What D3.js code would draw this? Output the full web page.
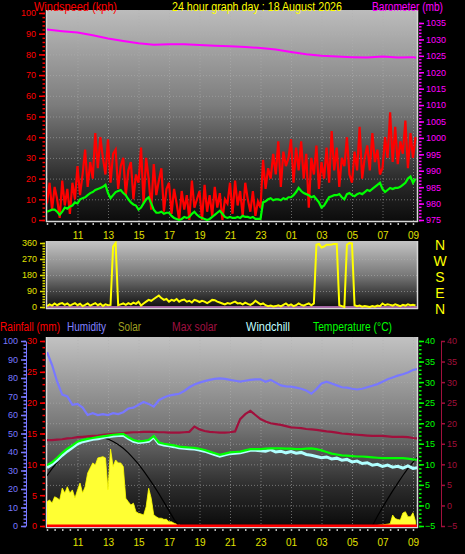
<!DOCTYPE html>
<html><head><meta charset="utf-8">
<script src="https://cdn.jsdelivr.net/npm/d3@7"></script>
<style>html,body{margin:0;padding:0;background:#000;} svg{display:block;font-family:"Liberation Sans",Arial,sans-serif;}</style>
</head><body>
<svg id="c" width="465" height="554"></svg>
<script>
// ---------- DATA ----------
const titleText = "24 hour graph day : 18 August 2026";
const xTickHours = [11, 13, 15, 17, 19, 21, 23, 25, 27, 29, 31, 33];

// 10-minute samples, 09:00 -> 09:10 next day (146 values)
const windGust = [
  8, 18, 5, 16, 10, 1,
  19, 7, 15, 3, 18, 10,
  26, 12, 22, 34, 16, 28,
  20, 42, 25, 40, 30, 22,
  39, 18, 32, 34, 15, 26,
  30, 12, 24, 28, 10, 22,
  18, 35, 8, 30, 20, 5,
  27, 12, 19, 25, 4, 15,
  18, 3, 15, 8, 0, 14,
  5, 12, 0, 19, 6, 10,
  14, 0, 17, 4, 12, 2,
  16, 6, 13, 0, 10, 8,
  18, 3, 19, 7, 14, 2,
  18, 10, 4, 14, 2, 9,
  6, 29, 15, 25, 20, 32,
  22, 38, 16, 33, 26, 30,
  39, 18, 35, 24, 38, 20,
  32, 6, 30, 22, 36, 15,
  28, 20, 35, 18, 43, 24,
  35, 16, 30, 26, 40, 22,
  18, 33, 24, 45, 20, 30,
  36, 24, 42, 28, 34, 22,
  25, 40, 30, 52, 28, 45,
  27, 38, 32, 48, 25, 42,
  30, 40];
const windAvg = [
  4, 4.5, 5, 5, 4, 2.5,
  4, 6, 5.5, 6.5, 7, 8.5,
  8, 10, 10.5, 11, 12, 13,
  13.5, 14.5, 15, 15.5, 16, 17,
  13, 10.5, 12, 13.5, 14, 14.5,
  13, 12, 10, 8.5, 7.5, 7,
  5, 6, 8, 10, 11, 8,
  5, 3.5, 3.5, 4, 3, 3.5,
  3.5, 2, 1, 0.5, 0, 0.5,
  1.5, 1, 1.5, 3, 4, 2.5,
  1.5, 1, 0.5, 0, 0.5, 1.5,
  2.5, 3.5, 4.5, 3, 1.5, 1,
  1.5, 1, 1, 1.5, 1, 2,
  1.5, 1.5, 1, 1.5, 0.5, 0.5,
  0.5, 8.5, 9, 10, 10.5, 9.5,
  10, 10, 9.5, 10.5, 10, 11,
  11, 12, 13.5, 15.5, 14, 13,
  12.5, 12, 11, 11.5, 10, 8.5,
  6, 7, 9, 11, 11.5, 12,
  12, 12.5, 11, 10, 12.5, 13,
  12, 11.5, 12.5, 13, 12.5, 13.5,
  14.5, 14, 15, 16, 17, 18,
  15, 13.5, 14.5, 15.5, 15, 15.5,
  15.5, 16, 17, 18, 20, 21,
  18, 20];
const windDir = [
  5, 15, 8, 20, 10, 18,
  22, 12, 20, 8, 15, 22,
  10, 18, 5, 12, 20, 8,
  15, 22, 10, 18, 6, 15,
  10, 12, 340, 360, 10, 15,
  20, 12, 22, 15, 25, 18,
  30, 8, 20, 30, 40, 35,
  45, 55, 65, 50, 40, 45,
  30, 40, 35, 45, 30, 38,
  42, 30, 35, 25, 40, 35,
  28, 35, 30, 22, 30, 40,
  38, 30, 25, 20, 15, 22,
  18, 25, 30, 20, 22, 15,
  25, 18, 12, 20, 35, 25,
  15, 20, 10, 5, 8, 3,
  5, 10, 3, 12, 20, 8,
  15, 5, 10, 20, 12, 8,
  15, 20, 10, 20, 350, 355,
  335, 340, 350, 350, 352, 355,
  355, 10, 5, 0, 350, 360,
  358, 10, 5, 8, 2, 5,
  3, 0, 5, 2, 8, 5,
  20, 10, 15, 12, 8, 15,
  10, 5, 12, 8, 15, 10,
  12, 8];
const solar = [
  131, 141, 124, 158, 151, 141,
  205, 178, 212, 178, 195, 151,
  195, 232, 178, 212, 286, 314,
  341, 330, 368, 371, 375, 368,
  195, 416, 321, 357, 341, 341,
  321, 150, 131, 114, 123, 77,
  69, 65, 59, 104, 204, 150,
  60, 50, 42, 42, 36, 36,
  23, 23, 15, 10, 5, 0,
  0, 0, 0, 0, 0, 0,
  0, 0, 0, 0, 0, 0,
  0, 0, 0, 0, 0, 0,
  0, 0, 0, 0, 0, 0,
  0, 0, 0, 0, 0, 0,
  0, 0, 0, 0, 0, 0,
  0, 0, 0, 0, 0, 0,
  0, 0, 0, 0, 0, 0,
  0, 0, 0, 0, 0, 0,
  0, 0, 0, 0, 0, 0,
  0, 0, 0, 0, 0, 0,
  0, 0, 0, 0, 0, 0,
  0, 0, 0, 2, 3, 5,
  6, 8, 10, 12, 59, 40,
  35, 32, 70, 77, 50, 50,
  72, 25];

// hourly barometer readings (mb)
const baroHours = [9, 10, 11, 12, 13, 14, 15, 16, 17, 18, 19, 20, 21, 22, 23, 24, 25, 26, 27, 28, 29, 30, 31, 32, 33, 33.2];
const barometer = [1033.0, 1032.5, 1032.1, 1031.3, 1030.3, 1029.5, 1028.8, 1028.4, 1028.5, 1028.5, 1028.3, 1028.1, 1027.9, 1027.7, 1027.4, 1026.9, 1026.2, 1025.5, 1025.0, 1024.8, 1024.6, 1024.5, 1024.8, 1024.5, 1024.6, 1024.4];

// 20-minute samples, 09:00 -> 09:20 next day (74 values)
const humidity = [
  94, 87, 78, 71, 70, 65.5, 66, 64, 60, 61, 60, 60.5,
  60, 61, 60.5, 61.5, 63.5, 64, 65.5, 67, 66, 64.5, 68, 69.5,
  70.5, 71, 71.5, 73, 75, 76.5, 77.5, 78.3, 79, 79.5, 79.8, 79.5,
  79, 78.5, 78, 78.5, 79, 79.3, 79.3, 78, 79, 77.5, 76, 75.5,
  75.3, 74.8, 74.2, 73.2, 71.5, 74, 77, 78, 77, 76, 75, 74.8,
  74.2, 73.8, 74.2, 75, 75.8, 76.7, 78, 79.3, 80.3, 81.3, 82, 83,
  84.3, 85];
const temperature = [
  9.8, 10.5, 11.6, 12.8, 13.8, 14.6, 15.5, 15.9, 16.2, 16.4, 16.6, 16.8,
  17, 17.2, 17.3, 17.4, 16.6, 15.9, 15.6, 15.7, 15.9, 16.9, 15.3, 15,
  14.8, 14.6, 14.3, 14.2, 14.1, 14, 13.8, 13.5, 13.1, 12.7, 12.3, 12.6,
  12.9, 13, 13.1, 13.4, 13.7, 13.7, 13.7, 13.8, 13.9, 13.9, 13.9, 13.8,
  13.8, 13.7, 13.7, 13.8, 13.9, 13.7, 13.4, 13, 12.6, 12.4, 12.2, 12.1,
  12, 11.9, 11.9, 11.8, 11.7, 11.6, 11.5, 11.5, 11.5, 11.5, 11.5, 11.4,
  11.2, 11.1];
const windchill = [
  9.2, 10.0, 11.0, 12.2, 13.2, 14.1, 15.0, 15.5, 15.8, 16.1, 16.2, 16.5,
  16.7, 16.9, 17.0, 17.1, 16.3, 15.6, 15.3, 15.4, 15.6, 16.6, 15.0, 14.7,
  14.5, 14.3, 14.0, 13.9, 13.8, 13.7, 13.5, 13.2, 12.8, 12.4, 12.0, 12.3,
  12.6, 12.7, 12.8, 13.1, 13.4, 13.4, 13.3, 13.2, 13.6, 13.0, 13.2, 12.8,
  13.1, 12.7, 12.9, 12.4, 12.2, 11.9, 11.6, 11.8, 11.3, 11.5, 11.0, 11.2,
  10.6, 10.8, 10.2, 10.4, 9.8, 10.0, 9.5, 9.8, 9.3, 9.5, 9.1, 9.6,
  9.0, 9.2];
const maxSolar = [
  15.9, 15.9, 16.0, 16.1, 16.3, 16.4, 16.6, 16.7, 16.8, 16.9, 17.0, 17.2,
  17.3, 17.4, 17.5, 17.6, 17.7, 17.8, 17.8, 17.9, 17.9, 17.9, 17.8, 17.8,
  17.7, 17.7, 17.7, 17.8, 17.9, 19.2, 18.5, 18.1, 17.9, 17.8, 17.7, 17.7,
  17.8, 18.0, 21.0, 22.2, 23.0, 22.0, 21.0, 20.4, 20.0, 19.8, 19.6, 19.3,
  19.0, 18.9, 18.8, 18.6, 18.5, 18.4, 18.2, 18.0, 17.9, 17.7, 17.5, 17.4,
  17.3, 17.2, 17.1, 17.0, 16.9, 16.9, 16.9, 16.8, 16.7, 16.7, 16.7, 16.6,
  16.4, 16.3];
const solarCurve = [
  272, 310, 345, 376, 403, 427, 447, 462, 473, 480, 481, 478,
  470, 457, 441, 420, 395, 366, 334, 298, 259, 218, 175, 129,
  83, 36, 0, 0, 0, 0, 0, 0, 0, 0, 0, 0,
  0, 0, 0, 0, 0, 0, 0, 0, 0, 0, 0, 0,
  0, 0, 0, 0, 0, 0, 0, 0, 0, 0, 0, 0,
  0, 0, 0, 0, 0, 53, 100, 145, 190, 232, 273, 311,
  345, 376];
const rainHours = [9, 33.3];
const rainfall = [0, 0];

// ---------- SETUP ----------
const hours10 = d3.range(windGust.length).map(i => 9 + i / 6);
const hours20 = d3.range(humidity.length).map(i => 9 + i / 3);
const svg = d3.select("#c");
const defs = svg.append("defs");
const PX0 = 47, PX1 = 417;
const P = { top: [10, 221], mid: [241, 308], bot: [337, 527] };

const x = d3.scaleLinear().domain([9, 33]).range([47, 413]);
const yWind = d3.scaleLinear().domain([0, 100]).range([220, 13]);
const yBaro = d3.scaleLinear().domain([975, 1035]).range([220, 23]);
const yDir = d3.scaleLinear().domain([0, 360]).range([307, 243]);
const yTemp = d3.scaleLinear().domain([-5, 40]).range([526, 341]);
const yHum = d3.scaleLinear().domain([0, 100]).range([526, 341]);
const yRain = d3.scaleLinear().domain([0, 30]).range([526, 341]);
const ySolar = d3.scaleLinear().domain([0, 1000]).range([526, 341]);

function grad(id, stops) {
  const g = defs.append("linearGradient").attr("id", id)
    .attr("x1", 0).attr("y1", 0).attr("x2", 0).attr("y2", 1);
  stops.forEach(s => g.append("stop").attr("offset", s[0]).attr("stop-color", s[1]));
}
grad("gTop", [[0, "#bcbcbc"], [0.45, "#7c7c7c"], [0.8, "#2c2c2c"], [1, "#0c0c0c"]]);
grad("gMid", [[0, "#c4c4c4"], [0.5, "#7a7a7a"], [1, "#0c0c0c"]]);
grad("gBot", [[0, "#c2c2c2"], [0.45, "#7a7a7a"], [0.8, "#2a2a2a"], [1, "#0a0a0a"]]);

Object.entries(P).forEach(([k, [a, b]]) => {
  defs.append("clipPath").attr("id", "clip-" + k).append("rect")
    .attr("x", PX0).attr("y", a).attr("width", PX1 - PX0).attr("height", b - a);
  const fill = k === "top" ? "gTop" : k === "mid" ? "gMid" : "gBot";
  svg.append("rect").attr("x", PX0).attr("y", a).attr("width", PX1 - PX0).attr("height", b - a)
    .attr("fill", `url(#${fill})`);
});

// grid lines
function hgrid(vals, scale) {
  svg.append("g").selectAll("line").data(vals).join("line")
    .attr("x1", PX0).attr("x2", PX1).attr("y1", d => scale(d) + 0.5).attr("y2", d => scale(d) + 0.5)
    .attr("stroke", "#b0b0b0").attr("stroke-opacity", 0.55).attr("stroke-dasharray", "1,2");
}
function vgrid(y0, y1) {
  svg.append("g").selectAll("line").data(xTickHours).join("line")
    .attr("x1", d => x(d) + 0.5).attr("x2", d => x(d) + 0.5).attr("y1", y0).attr("y2", y1)
    .attr("stroke", "#b0b0b0").attr("stroke-opacity", 0.55).attr("stroke-dasharray", "1,2");
}
hgrid(d3.range(10, 100, 10), yWind); vgrid(P.top[0], P.top[1]);
hgrid([90, 180, 270], yDir);
hgrid(d3.range(0, 40, 5), yTemp); vgrid(P.bot[0], P.bot[1]);

// frames
function frame(y0, y1) {
  const g = svg.append("g").attr("stroke", "#d8d8d8").attr("stroke-width", 1.5);
  g.append("line").attr("x1", 46.5).attr("x2", 46.5).attr("y1", y0).attr("y2", y1 + 1);
  g.append("line").attr("x1", 417.5).attr("x2", 417.5).attr("y1", y0).attr("y2", y1 + 1);
  g.append("line").attr("x1", 46).attr("x2", 418).attr("y1", y1 + 0.5).attr("y2", y1 + 0.5);
}
frame(P.top[0], P.top[1]); frame(P.mid[0], P.mid[1]); frame(P.bot[0], P.bot[1]);

// ---------- TOP PANEL ----------
const gTop = svg.append("g").attr("clip-path", "url(#clip-top)");
gTop.append("path").datum(barometer)
  .attr("d", d3.line().x((d, i) => x(baroHours[i])).y(d => yBaro(d)))
  .attr("fill", "none").attr("stroke", "#ff00ff").attr("stroke-width", 2);
gTop.append("path").datum(windGust)
  .attr("d", d3.line().x((d, i) => x(hours10[i])).y(d => yWind(d)))
  .attr("fill", "none").attr("stroke", "#ff0000").attr("stroke-width", 2.2);
gTop.append("path").datum(windAvg)
  .attr("d", d3.line().x((d, i) => x(hours10[i])).y(d => yWind(d)))
  .attr("fill", "none").attr("stroke", "#00ff00").attr("stroke-width", 2.2);

// ---------- MIDDLE PANEL ----------
const gMid = svg.append("g").attr("clip-path", "url(#clip-mid)");
gMid.append("line").attr("x1", PX0).attr("x2", PX1).attr("y1", yDir(0)).attr("y2", yDir(0))
  .attr("stroke", "#d080d0").attr("stroke-width", 1.5);
gMid.append("path").datum(windDir)
  .attr("d", d3.line().x((d, i) => x(hours10[i])).y(d => yDir(d)))
  .attr("fill", "none").attr("stroke", "#ffff00").attr("stroke-width", 2);

// ---------- BOTTOM PANEL ----------
const gBot = svg.append("g").attr("clip-path", "url(#clip-bot)");
gBot.append("path").datum(solar)
  .attr("d", d3.area().x((d, i) => x(hours10[i])).y0(ySolar(0)).y1(d => ySolar(d)))
  .attr("fill", "#ffff33").attr("stroke", "#ffff00").attr("stroke-width", 0.8);
gBot.append("path").datum(solarCurve)
  .attr("d", d3.line().x((d, i) => x(hours20[i])).y(d => ySolar(d)))
  .attr("fill", "none").attr("stroke", "#000").attr("stroke-width", 1.2);
gBot.append("path").datum(humidity)
  .attr("d", d3.line().x((d, i) => x(hours20[i])).y(d => yHum(d)))
  .attr("fill", "none").attr("stroke", "#7878ff").attr("stroke-width", 2.2);
gBot.append("path").datum(maxSolar)
  .attr("d", d3.line().x((d, i) => x(hours20[i])).y(d => yTemp(d)))
  .attr("fill", "none").attr("stroke", "#a0103c").attr("stroke-width", 2.2);
gBot.append("path").datum(windchill)
  .attr("d", d3.line().x((d, i) => x(hours20[i])).y(d => yTemp(d)))
  .attr("fill", "none").attr("stroke", "#b0ffff").attr("stroke-width", 3);
gBot.append("path").datum(temperature)
  .attr("d", d3.line().x((d, i) => x(hours20[i])).y(d => yTemp(d)))
  .attr("fill", "none").attr("stroke", "#00ff00").attr("stroke-width", 2.2);
gBot.append("path").datum(rainfall)
  .attr("d", d3.line().x((d, i) => x(rainHours[i])).y(d => yRain(d)))
  .attr("fill", "none").attr("stroke", "#ff0000").attr("stroke-width", 3);

// ---------- AXES ----------
function styleAxis(g, color, fs) {
  g.selectAll("line").attr("stroke", color).attr("stroke-width", 1.5);
  g.selectAll("path.domain").attr("stroke", color);
  g.selectAll("text").attr("fill", color).style("font-size", fs + "px")
    .style("font-family", '"Liberation Sans",Arial,sans-serif');
}
function axis(gen, tx, ty, color, fs, keepDomain) {
  const g = svg.append("g").attr("transform", `translate(${tx},${ty})`).call(gen);
  if (!keepDomain) g.select("path.domain").remove();
  styleAxis(g, color, fs);
  return g;
}
const intFmt = d3.format("d");
// top left wind speed
axis(d3.axisLeft(yWind).tickValues(d3.range(0, 101, 2)).tickSize(2.5).tickFormat(""), 45, 0, "#ff0000", 9);
axis(d3.axisLeft(yWind).tickValues(d3.range(0, 101, 10)).tickSize(6).tickPadding(3).tickFormat(intFmt), 45, 0, "#ff0000", 9);
// top right barometer
axis(d3.axisRight(yBaro).tickValues(d3.range(975, 1036, 1)).tickSize(2.5).tickFormat(""), 419, 0, "#ff00ff", 9);
axis(d3.axisRight(yBaro).tickValues(d3.range(975, 1036, 5)).tickSize(5).tickPadding(2).tickFormat(intFmt), 419, 0, "#ff00ff", 9);
// x axes
const hourFmt = h => String(h % 24).padStart(2, "0");
axis(d3.axisBottom(x).tickValues(d3.range(9, 33.01, 0.5)).tickSize(2).tickFormat(""), 0, 223, "#bbbbbb", 9);
axis(d3.axisBottom(x).tickValues(xTickHours).tickSize(0).tickPadding(9).tickFormat(hourFmt), 0, 223, "#e0e000", 10);
axis(d3.axisBottom(x).tickValues(d3.range(9, 33.01, 0.5)).tickSize(2).tickFormat(""), 0, 529, "#bbbbbb", 9);
axis(d3.axisBottom(x).tickValues(xTickHours).tickSize(0).tickPadding(10).tickFormat(hourFmt), 0, 529, "#e0e000", 10);
// middle direction
axis(d3.axisLeft(yDir).tickValues(d3.range(0, 361, 15)).tickSize(2.5).tickFormat(""), 45, 0, "#e0e000", 9);
axis(d3.axisLeft(yDir).tickValues(d3.range(0, 361, 90)).tickSize(5).tickPadding(3).tickFormat(intFmt), 45, 0, "#e0e000", 9);
const compass = [[360, "N"], [270, "W"], [180, "S"], [90, "E"], [0, "N"]];
svg.append("g").selectAll("text").data(compass).join("text")
  .attr("x", 440).attr("y", d => yDir(d[0]) + 7).attr("text-anchor", "middle")
  .attr("fill", "#ffff00").style("font-size", "14px").text(d => d[1]);
// bottom humidity
axis(d3.axisLeft(yHum).tickValues(d3.range(0, 101, 2)).tickSize(2.5).tickSizeOuter(0).tickFormat(""), 26, 0, "#7878ff", 9, true);
axis(d3.axisLeft(yHum).tickValues(d3.range(0, 101, 10)).tickSize(5).tickPadding(3).tickFormat(intFmt), 26, 0, "#7878ff", 9);
// bottom rainfall
axis(d3.axisLeft(yRain).tickValues(d3.range(0, 31, 1)).tickSize(2.5).tickFormat(""), 45, 0, "#ff0000", 9);
axis(d3.axisLeft(yRain).tickValues(d3.range(0, 31, 5)).tickSize(5).tickPadding(3).tickFormat(intFmt), 45, 0, "#ff0000", 9);
// bottom temperature
axis(d3.axisRight(yTemp).tickValues(d3.range(-5, 41, 1)).tickSize(2.5).tickFormat(""), 419, 0, "#00ff00", 9);
axis(d3.axisRight(yTemp).tickValues(d3.range(-5, 41, 5)).tickSize(5).tickPadding(1).tickFormat(intFmt), 419, 0, "#00ff00", 9);
// bottom max solar (maroon)
axis(d3.axisRight(yTemp).tickValues(d3.range(-5, 41, 5)).tickSize(4).tickSizeOuter(0).tickPadding(2).tickFormat(intFmt), 441, 0, "#a0103c", 9, true);

// ---------- TITLES ----------
const titles = [
  ["Windspeed (kph)", 34, 11, "#ff0000", 83],
  [titleText, 172, 11, "#ffff00", 170],
  ["Barometer (mb)", 372, 11, "#ff00ff", 71],
  ["Rainfall (mm)", 0, 331, "#ff0000", 60],
  ["Humidity", 67, 331, "#8080ff", 39],
  ["Solar", 118, 331, "#a0a020", 23],
  ["Max solar", 172, 331, "#a01040", 45],
  ["Windchill", 246, 331, "#c0ffff", 44],
  ["Temperature (°C)", 313, 331, "#00ff00", 79]
];
svg.append("g").selectAll("text").data(titles).join("text")
  .attr("x", d => d[1]).attr("y", d => d[2]).attr("fill", d => d[3])
  .attr("textLength", d => d[4]).attr("lengthAdjust", "spacingAndGlyphs")
  .style("font-size", "12px").text(d => d[0]);
</script></body></html>
